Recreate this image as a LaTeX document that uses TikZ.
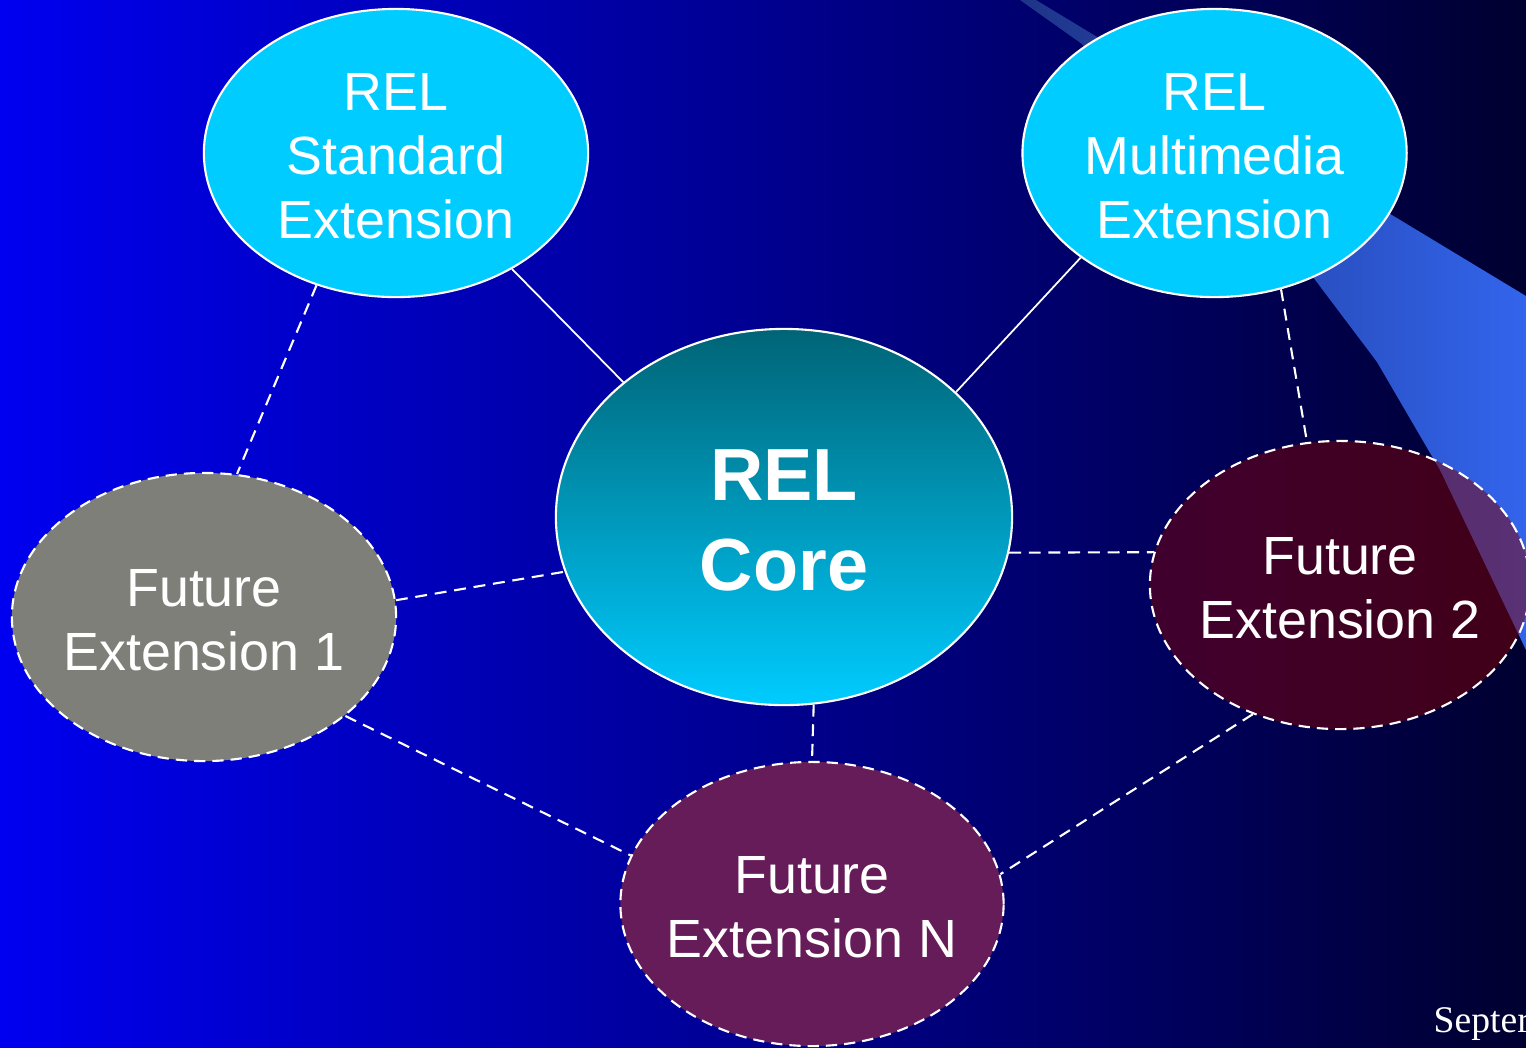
\documentclass[tikz,border=0pt]{standalone}
\usepackage{fontspec}
\setmainfont{Liberation Sans}
\newfontfamily\datefont{Liberation Serif}
\usetikzlibrary{shapes.geometric, positioning}

\definecolor{bgleft}{RGB}{0,0,240}
\definecolor{bgmid}{RGB}{0,0,190}
\definecolor{bgright}{RGB}{0,0,48}
\definecolor{bandleft}{RGB}{30,52,135}
\definecolor{bandright}{RGB}{50,100,236}
\definecolor{relcyan}{RGB}{0,204,255}
\definecolor{coretop}{RGB}{0,100,118}
\definecolor{futgray}{RGB}{127,127,122}
\definecolor{futplum}{RGB}{102,28,88}
\definecolor{futmaroon}{RGB}{128,0,0}

\tikzstyle{ext} = [ellipse, minimum width=3.84cm, minimum height=2.88cm, inner sep=0pt, draw=white, line width=0.6pt]
\tikzstyle{relext} = [ext, fill=relcyan]
\tikzstyle{future} = [ext, dash pattern=on 3.2pt off 2pt]
\tikzstyle{txt} = [text=white, align=center, yshift=-0.9pt, fill opacity=1, text opacity=1, font=\fontsize{15.3}{18.2}\selectfont]
\tikzstyle{link} = [draw=white, line width=0.5pt]
\tikzstyle{dlink} = [draw=white, line width=0.6pt, dash pattern=on 3.4pt off 2.2pt]

\begin{document}
\begin{tikzpicture}[x=0.01cm, y=-0.01cm]

\useasboundingbox (0,0) rectangle (1526,1047);
\clip (0,0) rectangle (1526,1047);

% Slide background
\shade [left color=bgleft, middle color=bgmid, right color=bgright] (0,0) rectangle (1526,1047);
\shade [left color=bandleft, right color=bandright] (1020,0) -- (1036,0) -- (1526,296) -- (1526,650) -- (1440,470) -- (1377,362) -- (1313,277) -- (1082,44) -- cycle;

% REL extensions
\node (std-ext) [relext, label={[txt]center:{REL\\Standard\\Extension}}] at (396,153) {};

\node (mm-ext) [relext, right=4.32cm of std-ext, label={[txt]center:{REL\\Multimedia\\Extension}}] {};

% Core
\node (core) [ext, top color=coretop, bottom color=relcyan, minimum width=4.56cm, minimum height=3.76cm, label={[txt, font=\bfseries\fontsize{21}{25.6}\selectfont]center:{REL\\Core}}] at (784,517) {};

% Future extensions
\node (fut-1) [future, fill=futgray, label={[txt]center:{Future\\Extension 1}}] at (204,617) {};

\node (fut-2) [future, fill=futmaroon, fill opacity=0.5, minimum width=3.8cm, label={[txt]center:{Future\\Extension 2}}] at (1340,585) {};

\node (fut-n) [future, fill=futplum, minimum width=3.83cm, minimum height=2.84cm, label={[txt]center:{Future\\Extension N}}] at (812,904) {};

% Links
\draw [link] (std-ext.-45) -- (core.140);
\draw [link] (mm-ext.218) -- (core.36);
\draw [dlink] (std-ext.239) -- (fut-1.77);
\draw [dlink] (fut-1.5) -- (core.194);
\draw [dlink] (core.-9) -- (fut-2.170);
\draw [dlink] (mm-ext.-64) -- (fut-2.103);
\draw [dlink] (core.-81.5) -- (fut-n.north);
\draw [dlink] (fut-1.-35) -- (fut-n.165);
\draw [dlink] (fut-2.236) -- (fut-n.9);

% Footer
\node (date) [anchor=base west, inner sep=0pt, text=white, font=\datefont\fontsize{10.7}{12}\selectfont] at (1433,1032) {Septer};

\end{tikzpicture}
\end{document}
